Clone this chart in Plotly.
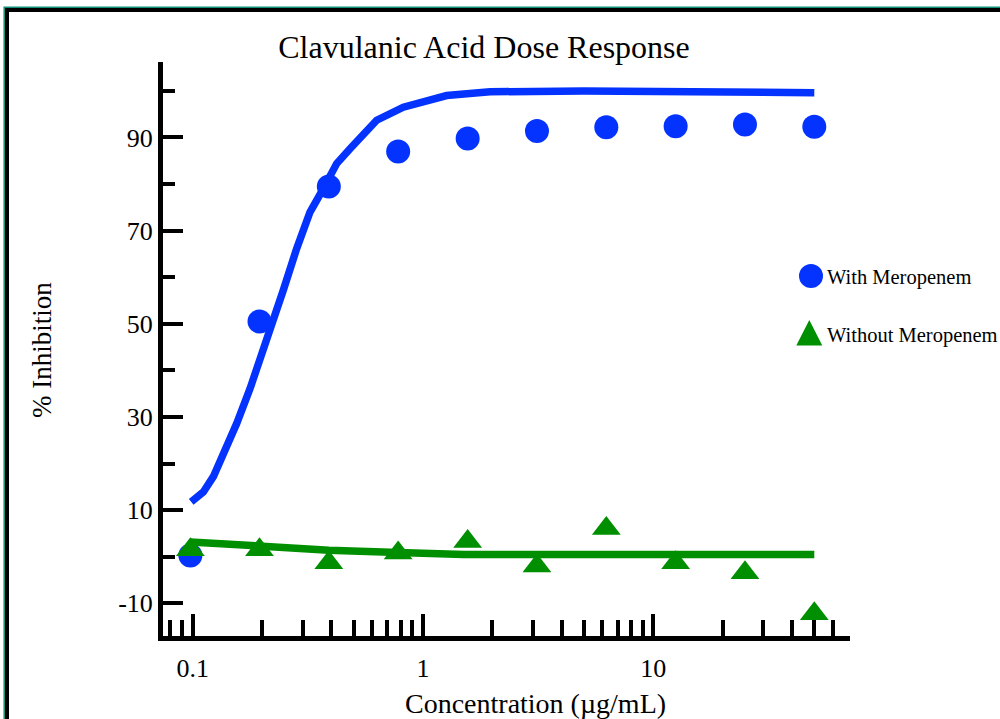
import plotly.graph_objects as go

# ---- data ----
conc = [0.0977, 0.195, 0.39, 0.78, 1.5625, 3.125, 6.25, 12.5, 25, 50]
with_mero = [0.3, 50.5, 79.5, 87.0, 89.8, 91.4, 92.2, 92.4, 92.8, 92.3]
without_mero = [1.5, 1.5, -1.3, 0.8, 3.3, -2.0, 6.1, -1.3, -3.4, -12.2]

fit_with_x = [0.0985, 0.1006, 0.1112, 0.1229, 0.1358, 0.1552, 0.1774, 0.196, 0.2166, 0.2473,
              0.2829, 0.3231, 0.3691, 0.4219, 0.482, 0.6295, 0.8212, 1.267, 1.954, 5.0, 50.0]
fit_with_y = [11.8, 12.2, 13.9, 17.2, 21.8, 28.6, 36.1, 42.2, 48.6, 57.2,
              66.2, 74.0, 79.0, 84.4, 87.6, 93.7, 96.5, 99.0, 99.8, 100.0, 99.6]
fit_without_x = [0.0977, 0.195, 0.39, 0.78, 1.5, 50.0]
fit_without_y = [3.2, 2.1, 1.4, 0.9, 0.5, 0.5]

x_tickvals = [0.1, 1, 10]
x_ticktext = ["0.1", "1", "10"]
x_minor = [0.08, 0.09, 0.2, 0.3, 0.4, 0.5, 0.6, 0.7, 0.8, 0.9,
           2, 3, 4, 5, 6, 7, 8, 9, 20, 30, 40, 50, 60]
y_tickvals = [-10, 10, 30, 50, 70, 90]
y_ticktext = ["-10", "10", "30", "50", "70", "90"]
y_minor = [0, 20, 40, 60, 80, 100]

BLUE = "#0433FF"
GREEN = "#008F00"
FONT = "Liberation Serif, Times New Roman, serif"

W, H = 1000, 719
L, R, T, B = 163, 850, 62, 635.8


def pxx(px):
    return (px - L) / (R - L)


def pxy(py):
    return (B - py) / (B - T)


fig = go.Figure()
fig.add_trace(go.Scatter(x=fit_with_x, y=fit_with_y, mode="lines",
                         line=dict(color=BLUE, width=7.5), showlegend=False,
                         name="With Meropenem fit"))
fig.add_trace(go.Scatter(x=conc, y=with_mero, mode="markers",
                         marker=dict(color=BLUE, size=24, symbol="circle"),
                         showlegend=False, name="With Meropenem"))
fig.add_trace(go.Scatter(x=fit_without_x, y=fit_without_y, mode="lines",
                         line=dict(color=GREEN, width=7.5), showlegend=False,
                         name="Without Meropenem fit"))
fig.add_trace(go.Scatter(x=conc, y=without_mero, mode="markers",
                         marker=dict(color=GREEN, size=25, symbol="triangle-up"),
                         showlegend=False, name="Without Meropenem"))

shapes = []
# outer frame
shapes.append(dict(type="rect", xref="paper", yref="paper",
                   x0=pxx(4.2), y0=pxy(7.2), x1=pxx(1020), y1=pxy(740),
                   line=dict(color="#0f8f75", width=1.5), layer="below"))
shapes.append(dict(type="rect", xref="paper", yref="paper",
                   x0=pxx(7), y0=pxy(10), x1=pxx(1020), y1=pxy(740),
                   line=dict(color="black", width=4), layer="below"))
# legend symbols
shapes.append(dict(type="circle", xref="paper", yref="paper",
                   x0=pxx(799), x1=pxx(823), y0=pxy(264), y1=pxy(288),
                   fillcolor=BLUE, line=dict(width=0)))
shapes.append(dict(type="path", xref="paper", yref="paper",
                   path="M {:.5f} {:.5f} L {:.5f} {:.5f} L {:.5f} {:.5f} Z".format(
                       pxx(796.3), pxy(345.5), pxx(822.3), pxy(345.5), pxx(809.3), pxy(320)),
                   fillcolor=GREEN, line=dict(width=0)))

annotations = [
    dict(text="Concentration (µg/mL)", xref="paper", yref="paper",
         x=pxx(535), y=pxy(703), showarrow=False, xanchor="center", yanchor="middle",
         font=dict(family=FONT, size=28, color="black")),
    dict(text="% Inhibition", xref="paper", yref="paper", textangle=-90,
         x=pxx(42), y=pxy(350), showarrow=False, xanchor="center", yanchor="middle",
         font=dict(family=FONT, size=27, color="black")),
    dict(text="With Meropenem", xref="paper", yref="paper",
         x=pxx(825), y=pxy(277), showarrow=False, xanchor="left", yanchor="middle",
         font=dict(family=FONT, size=20.5, color="black")),
    dict(text="Without Meropenem", xref="paper", yref="paper",
         x=pxx(825), y=pxy(335), showarrow=False, xanchor="left", yanchor="middle",
         font=dict(family=FONT, size=20.5, color="black")),
]

fig.update_layout(
    width=W, height=H,
    margin=dict(l=L, r=W - R, t=T, b=H - B, pad=0),
    paper_bgcolor="white", plot_bgcolor="white",
    showlegend=False,
    title=dict(text="Clavulanic Acid Dose Response", x=0.484, y=1 - 47 / H,
               xref="container", yref="container", xanchor="center", yanchor="middle",
               font=dict(family=FONT, size=32, color="black")),
    font=dict(family=FONT, color="black"),
    shapes=shapes,
    annotations=annotations,
    xaxis=dict(type="log", range=[-1.129, 1.854], showgrid=False, zeroline=False,
               showline=True, linecolor="black", linewidth=5,
               ticks="inside", ticklen=22, tickwidth=4, tickcolor="black",
               tickvals=x_tickvals, ticktext=x_ticktext,
               tickfont=dict(family=FONT, size=26, color="black"),
               ticklabelstandoff=5,
               minor=dict(tickvals=x_minor, ticks="inside", ticklen=16, tickwidth=4,
                          tickcolor="black", showgrid=False)),
    yaxis=dict(range=[-17.0, 106.2], showgrid=False, zeroline=False,
               showline=True, linecolor="black", linewidth=5,
               ticks="inside", ticklen=20, tickwidth=4, tickcolor="black",
               tickvals=y_tickvals, ticktext=y_ticktext,
               tickfont=dict(family=FONT, size=26, color="black"),
               minor=dict(tickvals=y_minor, ticks="inside", ticklen=12, tickwidth=4,
                          tickcolor="black", showgrid=False)),
)

fig.write_html("out.html", config={"displayModeBar": False},
               post_script="document.body.style.margin='0';")
